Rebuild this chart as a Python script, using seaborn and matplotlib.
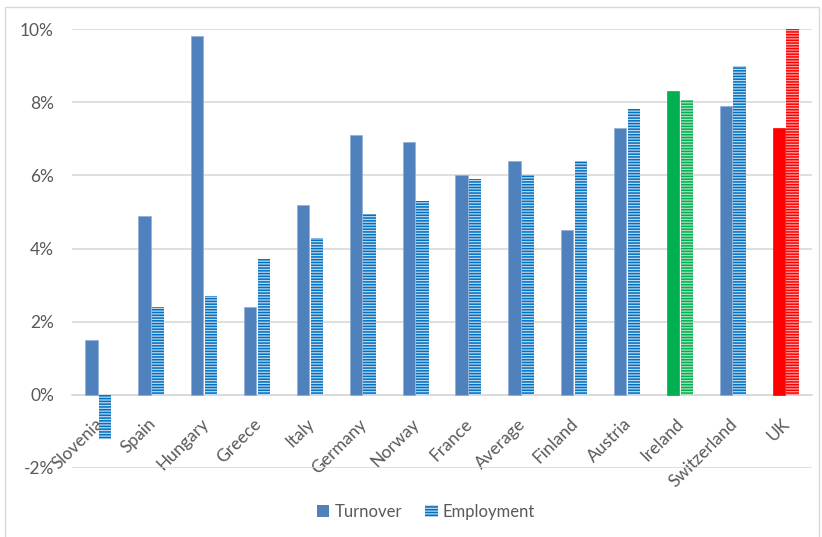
import matplotlib
matplotlib.use("Agg")
import matplotlib.pyplot as plt
import matplotlib.transforms as mtransforms
from matplotlib.patches import Patch, Rectangle
import seaborn as sns
import pandas as pd

countries = ["Slovenia", "Spain", "Hungary", "Greece", "Italy", "Germany", "Norway",
             "France", "Average", "Finland", "Austria", "Ireland", "Switzerland", "UK"]
turnover = [1.5, 4.9, 9.8, 2.4, 5.2, 7.1, 6.9, 6.0, 6.4, 4.5, 7.3, 8.3, 7.9, 7.3]
employment = [-1.2, 2.4, 2.7, 3.7, 4.3, 4.95, 5.3, 5.9, 6.0, 6.4, 7.8, 8.05, 9.0, 10.0]
series_names = ["Turnover", "Employment"]
y_ticks = [-2, 0, 2, 4, 6, 8, 10]
y_tick_labels = ["-2%", "0%", "2%", "4%", "6%", "8%", "10%"]

df = pd.DataFrame({
    "country": countries * 2,
    "series": [series_names[0]] * len(countries) + [series_names[1]] * len(countries),
    "value": turnover + employment,
})

sns.set_style("white")
plt.rcParams["font.family"] = ["Lato", "DejaVu Sans"]
plt.rcParams["hatch.linewidth"] = 1.1

TEXT = "#595959"
GRID = "#D9D9D9"
T_BLUE = "#4F81BD"
E_DARK = "#0070C0"
E_LIGHT = "#BDD7EE"

fig = plt.figure(figsize=(8.22, 5.37), dpi=100)
ax = fig.add_axes([72 / 822, 1 - 468 / 537, (812 - 72) / 822, (468 - 29) / 537])

sns.barplot(data=df, x="country", y="value", hue="series", order=countries,
            hue_order=series_names, palette=[T_BLUE, E_LIGHT], saturation=1,
            width=0.52, gap=0.1, legend=False, ax=ax, zorder=3)

special = {"Ireland": ("#00B050", "#00B050", "#A9DFBF"), "UK": ("#FF0000", "#FF0000", "#FF9F9F")}
tcont, econt = ax.containers[0], ax.containers[1]
for i, c in enumerate(countries):
    tb = tcont.patches[i]
    eb = econt.patches[i]
    tb.set_edgecolor("#8EADD6")
    tb.set_linewidth(0.5)
    eb.set_hatch("------")
    eb.set_linewidth(0)
    if c in special:
        tcol, ecol, elight = special[c]
        tb.set_facecolor(tcol)
        tb.set_edgecolor(tcol)
        eb.set_facecolor(elight)
        eb.set_edgecolor(ecol)
    else:
        eb.set_facecolor(E_LIGHT)
        eb.set_edgecolor(E_DARK)

ax.set_ylim(-2, 10)
ax.set_xlim(-0.5, len(countries) - 0.5)
ax.set_yticks(y_ticks)
ax.set_yticklabels(y_tick_labels)
ax.set_xlabel("")
ax.set_ylabel("")
ax.yaxis.grid(True, color=GRID, linewidth=1.2, zorder=0)
ax.xaxis.grid(False)
ax.set_axisbelow(True)
for s in ["top", "right", "left"]:
    ax.spines[s].set_visible(False)
ax.spines["bottom"].set_position(("data", 0))
ax.spines["bottom"].set_color(GRID)
ax.spines["bottom"].set_linewidth(1.2)
ax.spines["bottom"].set_zorder(1)
ax.tick_params(axis="y", length=0, pad=13, labelsize=12.5, labelcolor=TEXT)
ax.tick_params(axis="x", length=0, pad=15, labelsize=12.5, labelcolor=TEXT)
shift = mtransforms.ScaledTranslation(-4 / 100, 0, fig.dpi_scale_trans)
for lbl in ax.get_xticklabels():
    lbl.set_rotation(45)
    lbl.set_ha("right")
    lbl.set_rotation_mode("anchor")
    lbl.set_transform(lbl.get_transform() + shift)

handles = [Patch(facecolor=T_BLUE, edgecolor=T_BLUE, linewidth=0),
           Patch(facecolor=E_LIGHT, edgecolor=E_DARK, hatch="------", linewidth=0)]
fig.legend(handles=handles, labels=series_names, loc="center",
           bbox_to_anchor=(426 / 822, 1 - 512 / 537), ncol=2, frameon=False,
           fontsize=12, labelcolor=TEXT, handlelength=0.75, handleheight=0.75,
           handletextpad=0.3, columnspacing=1.4)

fig.patches.append(Rectangle((5 / 822, -0.02), 814 / 822, 1 - 7 / 537 + 0.02,
                             transform=fig.transFigure, fill=False,
                             edgecolor=GRID, linewidth=1.0))

fig.savefig("out.png", dpi=100)
